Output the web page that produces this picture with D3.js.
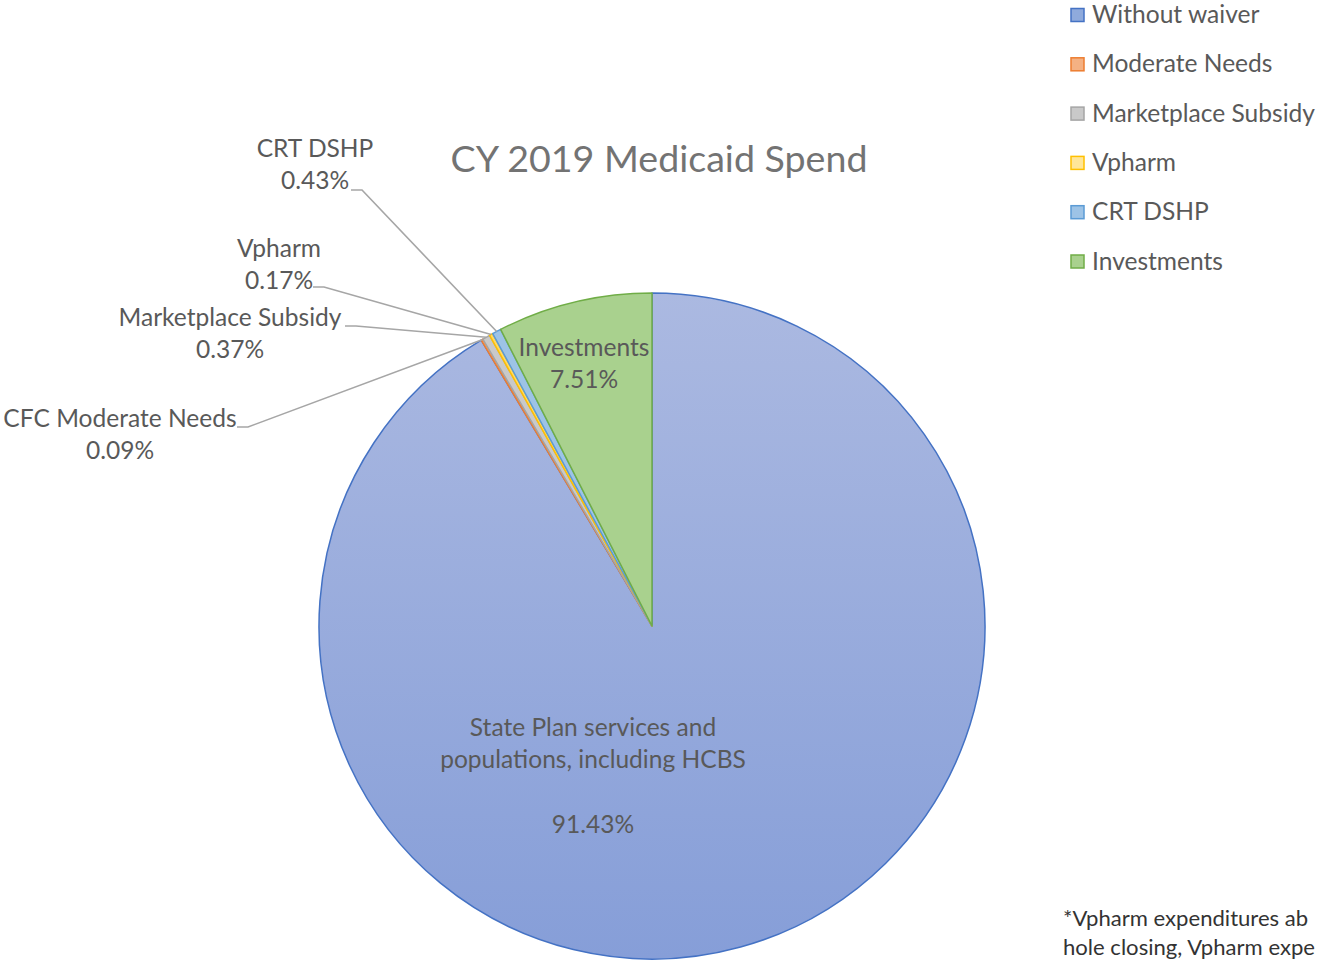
<!DOCTYPE html>
<html><head><meta charset="utf-8">
<script src="https://cdn.jsdelivr.net/npm/d3@7"></script>
<style>body{margin:0;background:#fff;overflow:hidden}svg{display:block}text{font-family:Lato,"Open Sans",sans-serif}</style>
</head><body>
<svg id="c" width="1318" height="960"></svg>
<script>
const legendNames = ["Without waiver","Moderate Needs","Marketplace Subsidy","Vpharm","CRT DSHP","Investments"];
const sliceLabels = [["State Plan services and","populations, including HCBS",""],["CFC Moderate Needs"],["Marketplace Subsidy"],["Vpharm"],["CRT DSHP"],["Investments"]];
const values = [91.43, 0.09, 0.37, 0.17, 0.43, 7.51];
const fills = ["url(#gBlue)","#f4b183","#c9c9c9","#ffd966","#9dc3e6","#a9d18e"];
const legendFills = ["#8faadc","#f4b183","#c9c9c9","#ffe699","#9dc3e6","#a9d18e"];
const strokes = ["#4472c4","#ed7d31","#a5a5a5","#ffc000","#5b9bd5","#70ad47"];
const title = "CY 2019 Medicaid Spend";
const footnote = ["*Vpharm expenditures ab","hole closing, Vpharm expe"];

const svg = d3.select("#c");
const cx = 652, cy = 626, R = 333;
const defs = svg.append("defs");
const g1 = defs.append("linearGradient").attr("id","gBlue").attr("x1",0).attr("y1",0).attr("x2",0).attr("y2",1);
g1.append("stop").attr("offset","0%").attr("stop-color","#abb9e1");
g1.append("stop").attr("offset","100%").attr("stop-color","#869ed8");

function textW(str, base){
  const t = svg.append("text").attr("font-size",base).text(str);
  const w = t.node().getComputedTextLength(); t.remove();
  return w;
}
function fitSize(str, target, base){ return base*target/textW(str, base); }
const fs = fitSize("Marketplace Subsidy", 223, 22);
const titleFs = fitSize(title, 417, 30);
const footW = Math.max(...footnote.map(s=>textW(s,20)));
const footFs = 20*252/footW;

const pie = d3.pie().sort(null).value(d=>d)(values);
const arc = d3.arc().innerRadius(0).outerRadius(R);
const gp = svg.append("g").attr("transform",`translate(${cx},${cy})`);
gp.selectAll("path").data(pie).join("path")
  .attr("d",arc).attr("fill",(d,i)=>fills[i]).attr("stroke",(d,i)=>strokes[i]).attr("stroke-width",1.5)
  .attr("stroke-linejoin","round");

const txt = "#595959";
svg.append("text").attr("x",659).attr("y",172).attr("text-anchor","middle").attr("font-size",titleFs).attr("fill","#737373").text(title);

const fmt = v => v.toFixed(2)+"%";
const inside = [{i:0,x:593,y:736,lines:[...sliceLabels[0],fmt(values[0])]},{i:5,x:584,y:356,lines:[sliceLabels[5][0],fmt(values[5])]}];
inside.forEach(o=>{
  const t = svg.append("text").attr("text-anchor","middle").attr("font-size",fs).attr("fill",txt);
  o.lines.forEach((l,k)=>t.append("tspan").attr("x",o.x).attr("y",o.y+k*32.3).text(l));
});

const outside = [
  {i:1, x:120, y:427, lx:237, ly:427},
  {i:2, x:230, y:326, lx:345, ly:326},
  {i:3, x:279, y:257, lx:313, ly:287},
  {i:4, x:315, y:157, lx:351, ly:190}
];
outside.forEach(o=>{
  const d = pie[o.i];
  const a = (d.startAngle+d.endAngle)/2;
  const ex = cx + R*Math.sin(a), ey = cy - R*Math.cos(a);
  svg.append("polyline").attr("points",`${o.lx},${o.ly} ${o.lx+11},${o.ly} ${ex},${ey}`)
    .attr("fill","none").attr("stroke","#a6a6a6").attr("stroke-width",1.6);
  const t = svg.append("text").attr("text-anchor","middle").attr("font-size",fs).attr("fill",txt);
  t.append("tspan").attr("x",o.x).attr("y",o.y).text(sliceLabels[o.i][0]);
  t.append("tspan").attr("x",o.x).attr("y",o.y+32).text(fmt(values[o.i]));
});

const lg = svg.append("g");
legendNames.forEach((n,i)=>{
  const y = 15 + i*49.3;
  lg.append("rect").attr("x",1071).attr("y",y-6.5).attr("width",13).attr("height",13)
    .attr("fill",legendFills[i]).attr("stroke",strokes[i]).attr("stroke-width",1.5);
  lg.append("text").attr("x",1092).attr("y",y+8).attr("font-size",fs).attr("fill",txt).text(n);
});

const ft = svg.append("text").attr("font-size",footFs).attr("fill","#333333");
footnote.forEach((l,k)=>ft.append("tspan").attr("x",1063).attr("y",926+k*29).text(l));
</script>
</body></html>
